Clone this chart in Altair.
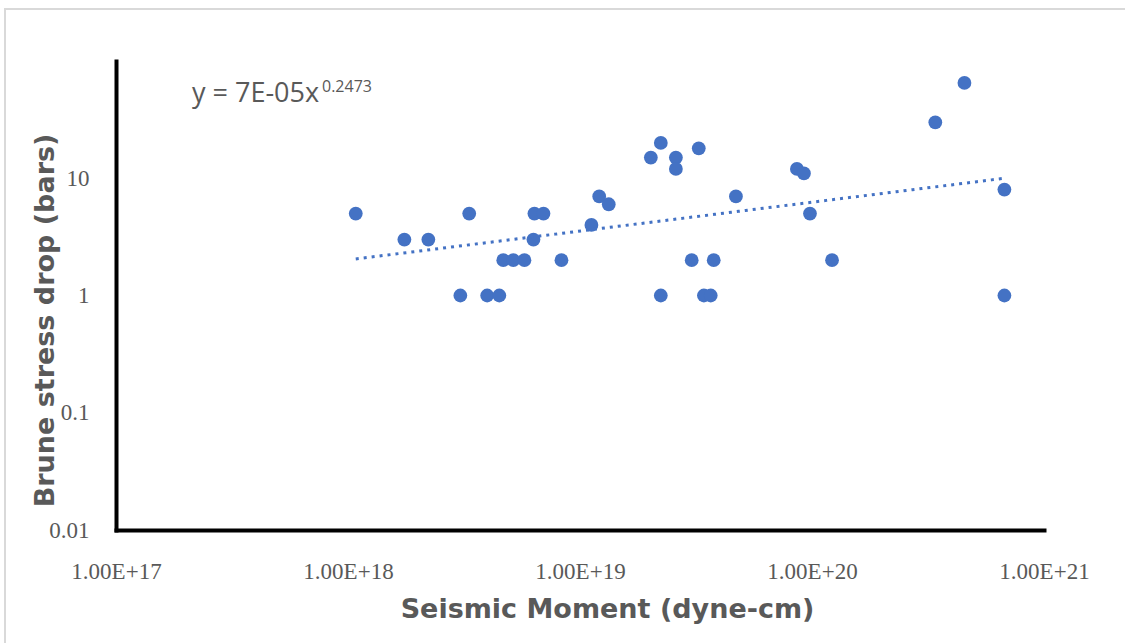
import altair as alt
import pandas as pd

# Seismic moment (dyne-cm) and Brune stress drop (bars)
moment = [1.08e18, 1.75e18, 2.22e18, 3.05e18, 3.33e18, 3.98e18, 4.49e18, 4.67e18,
          5.16e18, 5.76e18, 6.30e18, 6.36e18, 6.96e18, 8.32e18, 1.12e19, 1.21e19,
          1.33e19, 2.02e19, 2.23e19, 2.23e19, 2.59e19, 2.59e19, 3.03e19, 3.25e19,
          3.42e19, 3.66e19, 3.77e19, 4.70e19, 8.61e19, 9.23e19, 9.80e19, 1.22e20,
          3.40e20, 4.54e20, 6.75e20, 6.75e20]
stress = [5, 3, 3, 1, 5, 1, 1, 2,
          2, 2, 3, 5, 5, 2, 4, 7,
          6, 15, 20, 1, 15, 12, 2, 18,
          1, 1, 2, 7, 12, 11, 5, 2,
          30, 65, 8, 1]

x_ticks = [1e17, 1e18, 1e19, 1e20, 1e21]
y_ticks = [0.01, 0.1, 1, 10]
x_domain = [1e17, 1e21]
y_domain = [0.01, 100]

x_title = "Seismic Moment (dyne-cm)"
y_title = "Brune stress drop (bars)"
eq_main = "y = 7E-05x"
eq_sup = "0.2473"

df = pd.DataFrame({"moment": moment, "stress": stress})

BLUE = "#4472C4"
GRAY = "#595959"
W, H = 928, 469
PL, PT = 116, 61

x_enc = alt.X("moment:Q",
              scale=alt.Scale(type="log", domain=x_domain, nice=False),
              axis=alt.Axis(values=x_ticks,
                            labelExpr="'1.00E+' + round(log(datum.value)/LN10)",
                            title=x_title, grid=False, ticks=False, tickSize=0,
                            domainColor="black", domainWidth=4, domainCap="square",
                            labelFont="Liberation Serif", labelFontSize=23,
                            labelColor=GRAY, labelPadding=30, labelFlush=False,
                            labelOverlap=False,
                            titleFont="DejaVu Sans", titleFontSize=27,
                            titleFontWeight="bold", titleColor=GRAY,
                            titleX=491, titleY=87, titleBaseline="alphabetic",
                            titleAlign="center"))
y_enc = alt.Y("stress:Q",
              scale=alt.Scale(type="log", domain=y_domain, nice=False),
              axis=alt.Axis(values=y_ticks,
                            labelExpr="'' + datum.value",
                            title=y_title, grid=False, ticks=False, tickSize=0,
                            domainColor="black", domainWidth=4, domainCap="square",
                            labelFont="Liberation Serif", labelFontSize=23,
                            labelColor=GRAY, labelPadding=27, labelFlush=False,
                            labelBaseline="middle", labelOverlap=False,
                            titleFont="DejaVu Sans", titleFontSize=27,
                            titleFontWeight="bold", titleColor=GRAY,
                            titleAngle=270, titleX=-63, titleY=259,
                            titleBaseline="alphabetic", titleAlign="center"))

points = alt.Chart(df).mark_circle(size=190, color=BLUE, opacity=1).encode(
    x=x_enc, y=y_enc)

trend = alt.Chart(df).transform_regression(
    "moment", "stress", method="pow"
).mark_line(color=BLUE, strokeWidth=3, strokeDash=[3, 5], strokeCap="butt").encode(
    x=alt.X("moment:Q", scale=alt.Scale(type="log", domain=x_domain, nice=False)),
    y=alt.Y("stress:Q", scale=alt.Scale(type="log", domain=y_domain, nice=False)))

ann = pd.DataFrame({"main": [eq_main], "sup": [eq_sup]})
eq1 = alt.Chart(ann).mark_text(font="Open Sans", fontSize=27, color=GRAY,
                               align="left", baseline="alphabetic").encode(
    x=alt.value(76), y=alt.value(41), text="main:N")
eq2 = alt.Chart(ann).mark_text(font="Open Sans", fontSize=16, color=GRAY,
                               align="left", baseline="alphabetic").encode(
    x=alt.value(206), y=alt.value(31), text="sup:N")

frame = alt.Chart(ann).mark_rect(fill="transparent", stroke="#d9d9d9",
                                 strokeWidth=2).encode(
    x=alt.value(5 - PL), x2=alt.value(1125 - PL + 30),
    y=alt.value(9 - PT), y2=alt.value(643 - PT + 30))

chart = alt.layer(frame, points, trend, eq1, eq2).properties(
    width=W, height=H,
    autosize=alt.AutoSizeParams(type="none"),
    padding={"left": PL, "top": PT, "right": 1125 - PL - W, "bottom": 643 - PT - H},
    background="white",
).configure_view(strokeWidth=0)

chart.save("out.html", embed_options={"renderer": "svg", "actions": False})
